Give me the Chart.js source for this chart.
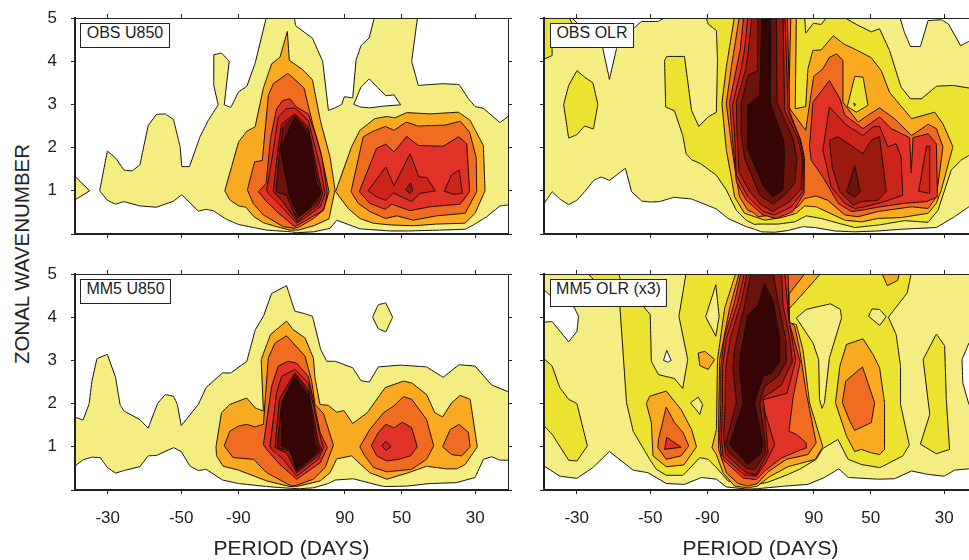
<!DOCTYPE html>
<html>
<head>
<meta charset="utf-8">
<title>Wavenumber-frequency spectra</title>
<script src="https://cdn.jsdelivr.net/npm/chart.js@4/dist/chart.umd.min.js"></script>
<style>
  html, body { margin: 0; padding: 0; background: #fff; width: 969px; height: 560px; overflow: hidden; }
  canvas { position: absolute; }
  .tag { position: absolute; box-sizing: border-box; height: 26px; line-height: 24px; background: #fff; border: 1px solid #222;
         font: 16px "Liberation Sans", Arial, sans-serif; color: #222; text-align: center; white-space: nowrap; }
  #ylab { position: absolute; left: 22px; top: 254px; transform: translate(-50%, -50%) rotate(-90deg); white-space: nowrap;
          font: 20.5px "Liberation Sans", Arial, sans-serif; color: #222; }
</style>
</head>
<body>
<div id="ylab">ZONAL WAVENUMBER</div>
<script>
// x = frequency in 1/1000 cycles per day (negative = westward), y = zonal wavenumber
// every contour is a flat list x,y,x,y...
var periodLabels = ['-30', '-50', '-90', '90', '50', '30'];
var periodFreqs = [-33.33, -20, -9.65, 9.65, 20, 33.33]; // the 90 day marks sit on the grid bin next to 1/90
var wavenumberTicks = [0, 1, 2, 3, 4, 5];
var levelColors = ['#ffffff', '#f4ee82', '#ece230', '#faaa20', '#f06c20', '#e03226', '#cc2418', '#9a1a10', '#6a120c', '#370405'];

// ---- OBS U850
var ou1a = [-39.8,1.4, -36.6,1.0, -39.8,0.75];
var ou1b = [-34.8,1.0,-33.4,1.92,-31.9,1.76,-30.4,1.48,-28.9,1.46,-27.5,1.6,-26.0,2.51,-24.5,2.77,-22.9,2.78,-21.4,2.65,-20.2,2.02,-19.9,1.56,-18.5,1.56,-16.6,2.25,-15.1,2.63,-13.3,2.99,-14.1,3.44,-14.1,4.15,-12.7,4.19,-11.3,4.0,-12.2,2.99,-11.0,2.93,-9.6,3.29,-8.1,3.42,-6.6,3.95,-4.5,5.05,0.45,5.05,0.76,4.82,3.8,4.53,5.65,4.0,6.7,2.86,7.9,2.92,9.1,3.0,9.6,3.18,11.1,3.15,11.7,4.02,12.6,4.36,14.1,4.54,15.1,5.05,22.9,5.05,21.8,4.0,23.0,3.44,27.5,3.48,30.4,3.46,32.1,3.13,33.3,2.95,34.8,2.91,37.8,2.58,39.8,2.77,39.8,0.68,37.8,0.65,35.4,0.4,33.0,0.21,31.5,0.11,26.9,0.09,21.2,0.07,17.9,0.07,12.4,0.12,8.2,0.32,7.0,0.13,4.0,0.05,0.9,0.03,0,0.05,-4.5,0.09,-6.9,0.15,-9.6,0.22,-11.8,0.34,-14.2,0.54,-15.5,0.57,-16.9,0.53,-19.9,0.91,-21.4,0.76,-24.5,0.62,-27.5,0.65,-30.4,0.75,-31.9,0.69,-33.4,0.78];
var ou0 = [11.3,3.0,12.6,3.4,14.1,3.59,17.1,3.2,18.6,3.22,19.8,2.99,16.7,2.96,14.2,2.92,12.5,2.94];
var ou3a = [-12.1,1.0,-9.6,2.13,-8.1,2.38,-6.6,2.48,-5.1,3.38,-3.6,3.94,-2.1,4.09,-0.75,4.69,-0.4,4.02,1.97,3.81,3.8,3.57,4.4,3.17,5.3,2.59,7.0,1.78,7.9,1.02,6.8,0.35,4.0,0.19,1.2,0.09,-0.3,0.09,-2.7,0.17,-5.1,0.26,-6.8,0.4,-8.3,0.62,-9.6,0.65,-11.2,0.79];
var ou3b = [8.0,0.98,10.9,2.02,12.4,2.4,15.1,2.67,17.3,2.72,18.8,2.69,20.9,2.81,25.1,2.78,30.3,2.82,32.4,2.63,34.8,2.05,35.1,1.0,33.3,0.48,31.5,0.25,26.3,0.23,22.1,0.19,17.9,0.21,14.8,0.25,12.4,0.36,10.3,0.59];
var ou4a = [-8.0,1.02,-6.7,1.67,-5.3,1.7,-4.2,3.21,-3.3,3.48,-0.75,3.71,-0.27,3.68,2.27,3.38,3.84,2.55,5.3,1.9,6.8,0.98,5.8,0.55,4.0,0.36,1.5,0.17,0.6,0.13,-1.5,0.17,-5.1,0.44,-6.9,0.7];
var ou4b = [10.8,0.98,13.0,2.25,14.5,2.36,17.0,2.49,18.6,2.4,20.8,2.59,23.0,2.5,27.8,2.52,30.6,2.61,32.3,2.36,33.5,1.78,33.6,0.98,31.5,0.48,26.3,0.42,22.1,0.32,19.1,0.42,17.0,0.36,14.2,0.52,12.1,0.71];
var ou5a = [-6.0,0.98,-4.6,1.17,-3.8,2.21,-2.7,2.9,-1.6,3.09,-0.3,3.13,0.9,2.94,3.05,2.78,4.3,2.32,5.5,1.78,6.5,0.94,5.8,0.55,2.75,0.32,0.6,0.17,-2.7,0.52,-4.5,0.75];
var ou5b = [12.3,0.98,15.4,1.98,17.1,2.08,18.6,1.9,20.9,2.26,23.0,2.05,27.5,2.03,30.3,2.25,31.8,2.09,32.3,0.98,30.6,0.69,25.1,0.63,21.5,0.54,18.2,0.69,17.0,0.57,14.2,0.71];
var ou6a = [-4.5,1.02,-3.4,1.86,-2.4,2.71,-0.9,2.9,0.6,2.92,3.05,2.63,5.2,1.55,6.1,0.94,5.2,0.63,2.75,0.4,0.95,0.25,-2.1,0.67,-4.2,0.94];
var ou6b = [13.9,1.0,17.1,1.55,18.6,1.12,21.5,1.86,23.1,1.32,24.5,1.31,26.1,1.0,23.3,0.94,21.8,0.75,18.5,0.95,17.1,0.78,15.4,0.86];
var ou6c = [27.7,0.99,29.0,1.36,30.4,1.48,31.0,0.94,29.4,0.92];
var ou7a = [-3.3,1.02,-2.4,2.02,-1.8,2.55,0.6,2.78,3.05,2.48,4.9,1.32,5.65,0.94,4.9,0.67,2.45,0.44,1.05,0.28,-1.8,0.78,-3.3,0.98];
var ou7b = [20.7,1.02,21.6,1.18,22.0,1.0,21.5,0.94];
var ou8 = [-2.8,0.98,-2.1,1.98,-1.5,2.48,0.6,2.75,3.05,2.4,4.7,1.25,5.35,0.95,4.55,0.71,2.15,0.48,0.95,0.34,-0.9,0.9];
var ou9 = [-2.0,1.98,0.6,2.71,3.05,2.32,4.45,1.17,5.2,0.98,4.25,0.75,2.75,0.55,1.25,0.4,-0.3,0.86,-1.2,1.4];

// ---- OBS OLR
var oo1 = [-39.8,5.05,39.8,5.05,39.8,0.78,37.8,0.63,35.2,0.4,31.9,0.15,25.5,0.11,21.3,0.07,17.1,0.05,13.5,0.07,9.8,0.15,7.7,0.17,5.0,0.08,2.6,0.04,0.15,0.05,-1.06,0.11,-2.6,0.17,-5.9,0.36,-8.0,0.58,-12.5,0.81,-15.7,0.85,-18.3,0.75,-20.0,0.74,-21.5,0.76,-23.4,0.98,-24.5,1.52,-27.4,1.24,-28.9,1.32,-30.2,1.25,-31.9,0.98,-33.3,0.78,-34.8,0.68,-36.4,0.81,-37.8,0.98,-39.8,0.6];
var oo0a = [-34.6,5.05,-28.6,4.3,-27.4,3.58,-26.1,4.3,-23.1,4.75,-21.6,4.92,-18.6,4.92,-16.8,5.05];
var oo0b = [25.2,5.05,26.1,4.67,27.2,4.34,29.0,4.34,30.4,4.94,32.8,4.96,34.1,4.86,36.3,4.36,37.8,4.46,39.8,4.59,39.8,5.05];
var oo2a = [-39.8,5.05,-34.9,5.05,-34.2,4.88,-37.8,4.3,-37.8,4.13,-39.8,4.02];
var oo2b = [-33.3,3.78,-31.9,3.63,-30.4,3.5,-29.5,3.0,-30.3,2.43,-31.9,2.5,-33.3,2.3,-34.8,2.22,-35.7,3.0,-34.8,3.44];
var oo2c = [-9.95,5.05,-9.5,4.86,-8.0,4.71,-7.8,4.02,-8.0,2.82,-9.5,2.71,-11.2,2.49,-12.5,2.86,-13.8,4.11,-17.0,4.11,-17.4,4.02,-17.2,2.94,-15.6,2.85,-14.1,2.28,-13.5,1.86,-12.5,1.72,-10.9,1.63,-8.0,1.36,-6.2,1.02,-4.4,0.55,-2.6,0.32,-1.06,0.22,-0.45,0.23,3.2,0.23,6.2,0.28,8.3,0.42,11.0,0.36,14.7,0.23,17.1,0.15,21.6,0.21,26.1,0.31,30.4,0.27,32.2,0.55,34.6,1.48,36.4,1.71,37.8,1.82,39.8,1.94,39.8,3.28,37.8,3.38,34.9,3.44,31.9,3.42,29.2,3.13,27.2,3.13,25.5,3.4,23.4,4.25,21.6,4.75,20.1,4.68,17.4,4.85,14.7,5.05,12.2,5.05,11.0,4.85,9.6,4.88,8.2,4.65,8.0,5.05];
var oo3 = [-4.7,5.05,-6.2,3.86,-7.0,3.02,-6.2,1.94,-5.3,1.32,-4.7,0.86,-2.9,0.48,-1.06,0.4,0.76,0.32,3.8,0.38,6.5,0.48,8.0,0.65,10.1,0.63,15.3,0.32,18.3,0.28,21.3,0.36,25.5,0.38,30.4,0.48,31.9,0.71,32.8,1.02,34.9,2.02,33.1,2.55,31.6,2.82,27.4,2.67,23.4,3.28,21.9,3.78,20.1,4.08,17.4,4.26,15.1,4.4,13.2,4.59,11.0,4.26,9.5,4.25,8.6,3.82,8.2,2.95,6.3,2.9,6.5,5.05];
var oo4 = [-3.8,5.05,-5.3,3.86,-6.2,3.02,-5.3,2.09,-4.4,1.32,-3.8,0.86,-2.3,0.55,-1.06,0.48,-0.45,0.4,4.4,0.48,6.8,0.63,8.0,0.82,10.1,0.88,12.2,0.78,15.3,0.44,17.7,0.4,21.3,0.52,27.4,0.63,30.4,0.59,31.9,0.86,33.1,2.02,31.9,2.44,30.4,2.54,27.4,2.28,24.3,2.67,21.6,2.92,19.5,2.75,17.7,2.59,14.95,3.05,14.95,4.02,13.8,4.17,12.5,4.09,11.3,3.82,9.65,3.65,8.2,2.4,5.1,2.94,5.5,5.05];
var oo2d = [17.1,3.65,18.6,3.63,19.5,2.98,17.4,2.82,15.75,2.95];
var oo3b = [16.9,3.03,17.3,3.0,17.05,2.96];
var oo5a = [-3.05,5.05,-3.66,4.28,-5.6,3.05,-5.1,2.21,-4.38,1.21,-2.57,0.78,0.45,0.44,2.87,0.36,5.9,0.52,7.9,0.94,8.0,1.75,7.3,2.17,5.3,2.82,4.87,5.05];
var oo5b = [8.9,2.02,9.5,3.05,12.5,3.55,14.4,3.13,15.3,2.75,18.6,2.44,21.6,2.71,23.7,2.44,27.05,2.23,27.35,1.42,27.66,2.23,30.4,2.32,31.9,2.09,32.1,0.86,30.1,0.75,26.1,0.71,21.3,0.62,18.3,0.55,16.5,0.52,14.1,0.71,11.3,1.32,9.2,1.71];
var oo6a = [-2.27,5.05,-2.87,4.28,-3.5,3.82,-5.1,2.98,-4.7,2.36,-4.4,1.36,-2.27,0.86,0.45,0.52,2.57,0.44,5.6,0.63,7.7,0.98,7.8,1.75,7.1,2.21,5.0,2.86,4.44,5.05];
var oo6b = [11.3,1.94,12.5,2.94,15.6,2.52,18.6,2.28,20.4,2.48,21.6,2.49,23.1,2.02,24.6,2.09,25.5,1.78,25.8,0.9,22.5,0.75,18.9,0.63,17.1,0.59,15.3,0.71,12.8,1.09,11.9,1.63];
var oo6c = [28.7,0.99,30.1,2.03,30.7,2.03,30.7,0.94];
var oo7a = [-1.54,5.05,-2.27,4.17,-2.69,3.82,-4.38,3.05,-4.26,2.36,-3.9,1.44,-1.96,0.98,0.15,0.67,2.27,0.52,5.3,0.75,7.4,1.05,7.6,1.75,6.8,2.21,4.38,2.86,4.08,5.05];
var oo7b = [12.5,2.17,14.1,2.25,18.6,1.86,20.1,2.17,21.6,2.26,22.8,0.98,21.3,0.78,18.3,0.75,16.8,0.67,14.4,0.98,13.0,1.55];
var oo8a = [2.87,5.05,3.0,3.05,5.9,2.21,6.6,1.75,6.2,1.17,4.4,0.9,2.27,0.69,-0.15,0.9,-2.87,1.75,-3.5,2.28,-3.5,3.02,-2.27,3.67,-0.57,3.78,-0.45,5.05];
var oo8b = [15.6,0.98,17.1,1.58,18.1,0.98,17.1,0.85];
var oo9 = [0.27,5.05,-0.15,3.21,-2.27,2.98,-2.39,1.98,0.45,1.13,2.27,0.86,4.08,1.02,4.38,1.82,4.2,2.17,1.78,3.02,1.84,5.05];

// ---- MM5 U850
var mu1a = [-39.8,1.71,-37.8,1.62,-36.7,2.0,-36.2,2.52,-35.3,3.04,-33.4,3.14,-31.9,2.6,-31.1,1.98,-30.4,1.83,-27.5,1.63,-26.0,1.43,-24.3,2.0,-22.9,2.21,-21.4,2.17,-20.7,1.98,-20.0,1.49,-16.9,1.98,-15.5,2.37,-12.5,2.71,-11.0,2.71,-8.1,2.98,-6.6,3.7,-5.1,4.02,-3.6,4.55,-0.9,4.73,0.6,4.14,2.45,4.08,3.8,4.02,5.3,3.25,6.4,2.98,7.9,2.98,11.1,2.83,12.6,2.53,14.1,2.5,15.75,2.85,19.7,2.89,24.5,2.85,27.5,2.61,30.4,2.9,33.3,2.87,36.3,2.43,39.8,2.25,39.8,0.69,37.8,0.69,36.3,0.77,34.8,0.71,33.3,0.29,29.9,0.17,25.1,0.15,20.9,0.09,16.7,0.08,11.2,0.26,7.9,0.23,6.7,0.15,3.96,0.05,1.5,0.03,-0.3,0.04,-4.5,0.08,-9.6,0.15,-12.5,0.23,-15.5,0.48,-16.9,0.45,-18.4,0.55,-20.0,0.89,-21.4,0.98,-24.5,0.8,-26.0,0.79,-27.5,0.54,-30.4,0.45,-31.9,0.39,-33.4,0.52,-34.7,0.75,-36.2,0.76,-37.8,0.7,-39.8,0.5];
var mu1b = [14.7,4.0,15.75,4.29,17.1,4.33,18.35,4.0,17.1,3.66,15.75,3.73];
var mu3 = [-13.7,1.0,-12.7,1.79,-11.2,1.98,-8.1,2.13,-6.6,1.9,-5.1,1.83,-5.5,3.02,-3.8,3.6,-0.9,3.91,0.33,3.71,2.45,3.52,3.96,3.06,4.26,2.6,5.17,1.98,6.68,1.96,8.2,1.8,9.5,1.84,11.1,1.54,13.75,1.79,17.0,2.37,20.3,2.52,21.8,2.48,24.5,2.21,26.0,1.79,27.4,1.69,29.05,2.02,30.6,2.19,32.4,2.1,33.7,1.0,31.5,0.59,30.0,0.49,28.1,0.49,24.5,0.55,21.2,0.4,17.3,0.25,14.2,0.4,10.9,0.79,8.2,0.72,7.0,0.4,5.2,0.21,0.94,0.08,-0.3,0.08,-4.5,0.21,-9.6,0.46,-12.4,0.55,-13.6,0.79];
var mu4a = [-12.2,1.02,-11.2,1.36,-9.6,1.48,-8.1,1.52,-6.6,1.46,-5.1,1.52,-4.2,3.06,-3.0,3.4,-0.9,3.57,2.45,3.1,3.66,2.52,4.26,1.98,5.8,1.77,7.6,1.04,6.1,0.52,3.96,0.25,0.94,0.11,0,0.09,-4.5,0.4,-6.9,0.71,-10.6,0.75];
var mu4b = [12.4,1.0,14.2,1.4,16.7,1.79,18.5,1.94,20.3,2.16,21.8,2.1,24.5,1.63,25.8,1.02,24.5,0.71,21.8,0.48,17.3,0.42,14.9,0.52,13.3,0.79];
var mu4c = [27.4,1.0,28.8,1.4,30.4,1.52,32.1,1.33,32.4,1.0,30.9,0.79,29.05,0.82];
var mu5a = [-5.1,1.05,-3.6,2.4,-2.4,2.87,-0.6,2.98,0.9,2.94,3.05,2.63,5.2,1.33,6.5,0.98,5.2,0.63,0.95,0.25,-2.1,0.59,-4.5,0.94];
var mu5b = [14.5,1.03,15.75,1.33,17.1,1.52,18.6,1.44,20.1,1.57,21.8,1.44,22.8,1.0,21.6,0.79,19.4,0.71,17.3,0.67,15.45,0.79];
var mu6a = [-3.9,1.02,-2.7,2.25,-1.8,2.63,0.6,2.79,3.05,2.48,5.2,1.25,5.8,0.98,4.85,0.71,0.95,0.32,-1.5,0.71,-3.6,0.94];
var mu6b = [16.4,1.02,17.1,1.13,18.05,1.0,17.1,0.92];
var mu7 = [-3.0,0.98,-2.2,2.1,0.6,2.71,3.05,2.33,4.9,1.09,5.5,0.94,4.45,0.75,0.95,0.4,-0.9,0.86];
var mu8 = [-2.6,0.98,-1.8,2.02,0.6,2.67,3.05,2.25,4.7,1.05,5.2,0.94,4.25,0.79,0.95,0.44,-0.3,0.9];
var mu9 = [-1.8,2.02,0.6,2.6,3.05,2.17,4.25,1.05,4.85,0.94,3.95,0.79,0.95,0.48,-0.3,0.94,-1.8,1.02];

// ---- MM5 OLR
var mo1 = [-39.8,5.05,39.8,5.05,39.8,0.52,37.8,0.49,35.2,0.46,33.3,0.32,30.4,0.36,27.4,0.44,24.3,0.26,21.3,0.25,15.9,0.29,14.2,0.49,11.6,0.29,8.6,0.13,4.4,0.09,-0.57,0.03,-2.3,0.02,-6.2,0.07,-8.0,0.25,-10.7,0.29,-13.8,0.13,-17.1,0.15,-20.4,0.4,-23.1,0.46,-27.4,0.89,-30.4,0.52,-33.3,0.27,-36.4,0.32,-39.8,0.6];
var mo0a = [-39.8,4.7,-38.3,4.52,-33.8,4.23,-33.0,4.02,-33.3,3.67,-34.8,3.43,-37.8,3.9,-39.8,3.88];
var mo2a = [-39.8,3.1,-37.8,2.87,-36.4,2.37,-34.8,2.1,-33.3,2.0,-31.4,1.02,-33.3,0.67,-34.8,0.69,-37.8,1.29,-39.8,1.56];
var mo2b = [-31.6,5.05,-25.85,5.05,-25.4,4.88,-20.0,4.06,-19.8,2.98,-18.5,2.67,-15.6,2.58,-14.1,2.35,-13.2,3.02,-14.8,4.02,-13.45,5.05,27.4,5.05,26.6,4.56,23.2,4.0,24.6,3.6,25.4,2.87,25.4,1.98,27.0,1.04,25.8,0.79,22.2,0.55,21.6,0.52,18.3,0.59,15.9,0.71,14.05,1.17,11.3,0.96,10.1,0.71,7.1,0.48,5.0,0.36,1.36,0.18,-0.57,0.13,-1.06,0.09,-5.9,0.21,-8.0,0.52,-9.5,0.71,-11.0,0.75,-14.05,0.34,-17.1,0.34,-18.9,0.48,-20.1,0.71,-23.1,1.36,-24.3,2.02,-25.5,4.23];
var mo2c = [29.0,1.06,30.7,1.75,29.5,3.02,31.9,3.61,33.4,3.34,33.7,2.1,34.3,0.94,31.9,0.84];
var mo0b = [37.8,3.4,36.55,3.02,36.7,2.48,37.8,1.98,39.8,1.86,39.8,3.52];
var mo1b = [6.5,3.98,8.3,4.18,12.7,4.31,14.5,4.18,14.7,3.98,12.5,3.06,11.6,2.02,11.15,1.89,10.7,2.1,10.55,3.02,9.5,3.41];
var mo1c = [19.6,4.02,20.2,4.19,21.6,4.18,22.8,4.01,21.6,3.81];
var mo1d = [-9.95,4.01,-8.1,4.75,-7.5,4.02,-8.1,3.56];
var mo1e = [-12.7,2.02,-11.3,2.15,-10.5,1.98,-11.0,1.75];
var mo0c = [-17.6,3.0,-17.0,3.23,-16.2,3.0,-16.8,2.96];
var mo3a = [-20.7,2.0,-20.1,2.17,-17.1,2.29,-14.4,1.86,-12.5,1.4,-11.6,1.0,-13.9,0.58,-17.1,0.54,-19.5,0.79,-19.8,1.56];
var mo4a = [-18.5,1.17,-17.1,1.92,-15.6,1.56,-14.05,1.33,-13.0,1.02,-14.4,0.79,-17.1,0.71,-18.6,0.98];
var mo5a = [-17.4,0.94,-17.0,1.22,-14.4,0.99];
var mo3b = [-11.3,3.17,-10.1,3.21,-8.3,3.02,-9.5,2.79,-11.0,2.88];
var mo3c = [21.9,5.05,23.0,4.73,24.9,4.85,25.2,5.05];
var mo3d = [15.6,3.37,18.6,3.5,20.4,3.14,21.6,2.83,22.5,2.02,22.5,0.94,21.6,0.82,20.1,0.86,18.3,0.94,17.1,0.89,15.6,1.25,13.6,2.02,14.4,2.87];
var mo4b = [14.85,2.02,15.45,2.52,18.5,2.85,20.7,2.02,20.1,1.56,17.1,1.38,16.2,1.59];
var mo3e = [11.2,5.05,5.2,4.19,5.3,3.87,6.5,3.83,7.7,3.25,8.9,2.02,11.3,1.0,9.95,0.71,5.0,0.54,1.66,0.31,-0.57,0.09,-2.3,0.05,-4.7,0.09,-6.8,0.4,-8.0,0.82,-8.8,0.98,-8.0,1.4,-7.8,3.02,-6.5,4.21,-4.4,5.05];
var mo4c = [8.3,5.05,5.2,4.54,5.2,3.9,6.2,3.79,7.1,3.25,8.3,2.25,10.1,1.09,8.6,0.82,4.7,0.71,1.36,0.42,-0.57,0.15,-2.3,0.09,-4.1,0.15,-6.2,0.4,-7.6,0.94,-7.6,1.48,-7.4,3.02,-5.6,4.21,-3.8,5.05];
var mo5b = [-3.48,5.05,5.0,5.05,5.17,3.9,7.2,2.97,5.9,2.13,5.17,1.36,6.6,1.28,8.3,1.09,8.3,0.97,7.1,0.92,3.78,0.74,1.06,0.47,-0.76,0.24,-3.17,0.28,-7.1,0.74,-7.4,1.2,-7.2,2.01,-7.2,2.82,-6.6,3.51,-4.7,4.36];
var mo6 = [-2.87,5.05,4.38,5.05,5.17,3.9,6.4,3.01,4.8,2.24,0.45,2.09,0.76,1.82,2.57,1.05,0.76,0.59,-0.76,0.32,-2.87,0.34,-6.8,0.78,-7.1,1.2,-6.9,2.01,-6.9,2.82,-6.2,3.51,-4.08,4.36];
var mo7 = [-2.4,5.05,3.78,5.05,4.08,4.28,5.3,3.51,5.77,2.97,3.78,2.43,0.45,2.13,1.06,1.36,1.36,0.86,-0.76,0.35,-2.57,0.39,-6.3,0.82,-6.7,1.2,-6.4,2.01,-6.3,2.82,-5.5,3.51,-3.48,4.36];
var mo8 = [-1.66,5.05,2.27,5.05,3.17,4.36,4.56,3.51,4.7,2.97,3.17,2.63,0.76,2.4,-0.15,2.01,0.76,1.2,0.94,0.86,-1.06,0.47,-2.57,0.51,-5.9,0.89,-6.3,1.09,-4.38,2.01,-5.0,2.82,-4.7,3.28,-2.87,4.28];
var mo9 = [0.76,4.78,2.27,4.36,3.48,3.51,3.48,2.97,1.96,2.7,0.45,2.63,-1.06,2.01,0.45,1.05,0.15,0.86,-2.27,0.59,-5.6,1.05,-3.17,2.01,-3.78,2.82,-3.66,3.13,-2.27,4.05,-0.45,4.28];

// draw order is back to front, [level, contour]
var obsU850 = [[1,ou1a],[1,ou1b],[0,ou0],[3,ou3a],[3,ou3b],[4,ou4a],[4,ou4b],[5,ou5a],[5,ou5b],[6,ou6a],[6,ou6b],[6,ou6c],[7,ou7a],[7,ou7b],[8,ou8],[9,ou9]];
var obsOLR = [[1,oo1],[0,oo0a],[0,oo0b],[2,oo2a],[2,oo2b],[2,oo2c],[3,oo3],[4,oo4],[2,oo2d],[3,oo3b],[5,oo5a],[5,oo5b],[6,oo6a],[6,oo6b],[6,oo6c],[7,oo7a],[7,oo7b],[8,oo8a],[8,oo8b],[9,oo9]];
var mm5U850 = [[1,mu1a],[1,mu1b],[3,mu3],[4,mu4a],[4,mu4b],[4,mu4c],[5,mu5a],[5,mu5b],[6,mu6a],[6,mu6b],[7,mu7],[8,mu8],[9,mu9]];
var mm5OLR = [[1,mo1],[0,mo0a],[2,mo2a],[2,mo2b],[2,mo2c],[0,mo0b],[1,mo1b],[1,mo1c],[1,mo1d],[1,mo1e],[0,mo0c],[3,mo3a],[4,mo4a],[5,mo5a],[3,mo3b],[3,mo3c],[3,mo3d],[4,mo4b],[3,mo3e],[4,mo4c],[5,mo5b],[6,mo6],[7,mo7],[8,mo8],[9,mo9]];

var axisColor = '#222';
var textFont = 'Liberation Sans';

function toDataset(layer, i) {
  var flat = layer[1], pts = [];
  for (var k = 0; k < flat.length; k += 2) pts.push({x: flat[k], y: flat[k + 1]});
  pts.push(pts[0]); // close the contour
  return {
    data: pts,
    showLine: true,
    fill: 'shape',
    tension: 0.001,
    backgroundColor: levelColors[layer[0]],
    borderColor: '#140c08',
    borderWidth: 1,
    pointRadius: 0,
    order: -i // later contours on top
  };
}

function xTicks(axis) {
  axis.ticks = periodFreqs.map(function (f) { return {value: f}; });
}
function yTicks(axis) {
  axis.ticks = wavenumberTicks.map(function (w) { return {value: w}; });
}
function tickGrid() {
  return {drawOnChartArea: false, drawTicks: true, tickLength: 4, tickColor: axisColor, tickWidth: 1};
}
// labels may hang out of the plot, the plot box itself stays fixed
function noPadding(s) {
  s.paddingTop = s.paddingBottom = s.paddingLeft = s.paddingRight = 0;
}

function makePanel(layers, left, top, width, height, leftSpace, bottomSpace, showYLabels, showXLabels) {
  var c = document.createElement('canvas');
  c.width = width; c.height = height;
  c.style.left = left + 'px'; c.style.top = top + 'px';
  document.body.appendChild(c);
  new Chart(c, {
    type: 'scatter',
    data: {datasets: layers.map(toDataset)},
    options: {
      responsive: false,
      animation: false,
      events: [],
      layout: {padding: 0},
      plugins: {legend: {display: false}, tooltip: {enabled: false}, title: {display: false}},
      scales: {
        x: {
          type: 'linear', position: 'bottom', min: -39.27, max: 39.27,
          afterBuildTicks: xTicks,
          afterFit: function (s) { s.height = bottomSpace; noPadding(s); },
          border: {color: axisColor, width: 2, z: 1},
          grid: tickGrid(),
          ticks: {
            display: showXLabels, autoSkip: false, maxRotation: 0, padding: 14, z: 1, color: axisColor,
            font: {family: textFont, size: 17},
            callback: function (v, i) { return periodLabels[i]; }
          },
          title: {
            display: showXLabels, text: 'PERIOD (DAYS)', color: axisColor, padding: 0,
            font: {family: textFont, size: 21, lineHeight: 1}
          }
        },
        xTop: {
          type: 'linear', position: 'top', min: -39.27, max: 39.27,
          afterBuildTicks: xTicks,
          afterFit: function (s) { s.height = 18; noPadding(s); },
          border: {color: axisColor, width: 1, z: 1},
          grid: tickGrid(),
          ticks: {display: false, z: 1}
        },
        y: {
          type: 'linear', position: 'left', min: 0, max: 5,
          afterBuildTicks: yTicks,
          afterFit: function (s) { s.width = leftSpace; noPadding(s); },
          border: {color: axisColor, width: 2, z: 1},
          grid: tickGrid(),
          ticks: {
            display: showYLabels, padding: 14, z: 1, color: axisColor,
            font: {family: textFont, size: 17},
            callback: function (v) { return v === 0 ? '' : String(v); }
          }
        },
        yRight: {
          type: 'linear', position: 'right', min: 0, max: 5,
          afterBuildTicks: yTicks,
          afterFit: function (s) { s.width = 12; noPadding(s); },
          border: {color: axisColor, width: 1, z: 1},
          grid: tickGrid(),
          ticks: {display: false, z: 1}
        }
      }
    }
  });
}

function addTag(text, left, top, width, height) {
  var d = document.createElement('div');
  d.className = 'tag';
  d.textContent = text;
  d.style.left = left + 'px'; d.style.top = top + 'px';
  d.style.width = width + 'px'; d.style.height = height + 'px';
  document.body.appendChild(d);
}

makePanel(obsU850, 0, 0, 520, 245, 75, 11, true, false);
makePanel(obsOLR, 532, 0, 457, 245, 12, 11, false, false);
makePanel(mm5U850, 0, 256, 520, 304, 75, 70, true, true);
makePanel(mm5OLR, 532, 256, 457, 304, 12, 70, false, true);

addTag('OBS U850', 80, 23, 90, 25);
addTag('OBS OLR', 550, 23, 84, 25);
addTag('MM5 U850', 80, 279, 91, 25);
addTag('MM5 OLR (x3)', 550, 279, 117, 28);
</script>
</body>
</html>
